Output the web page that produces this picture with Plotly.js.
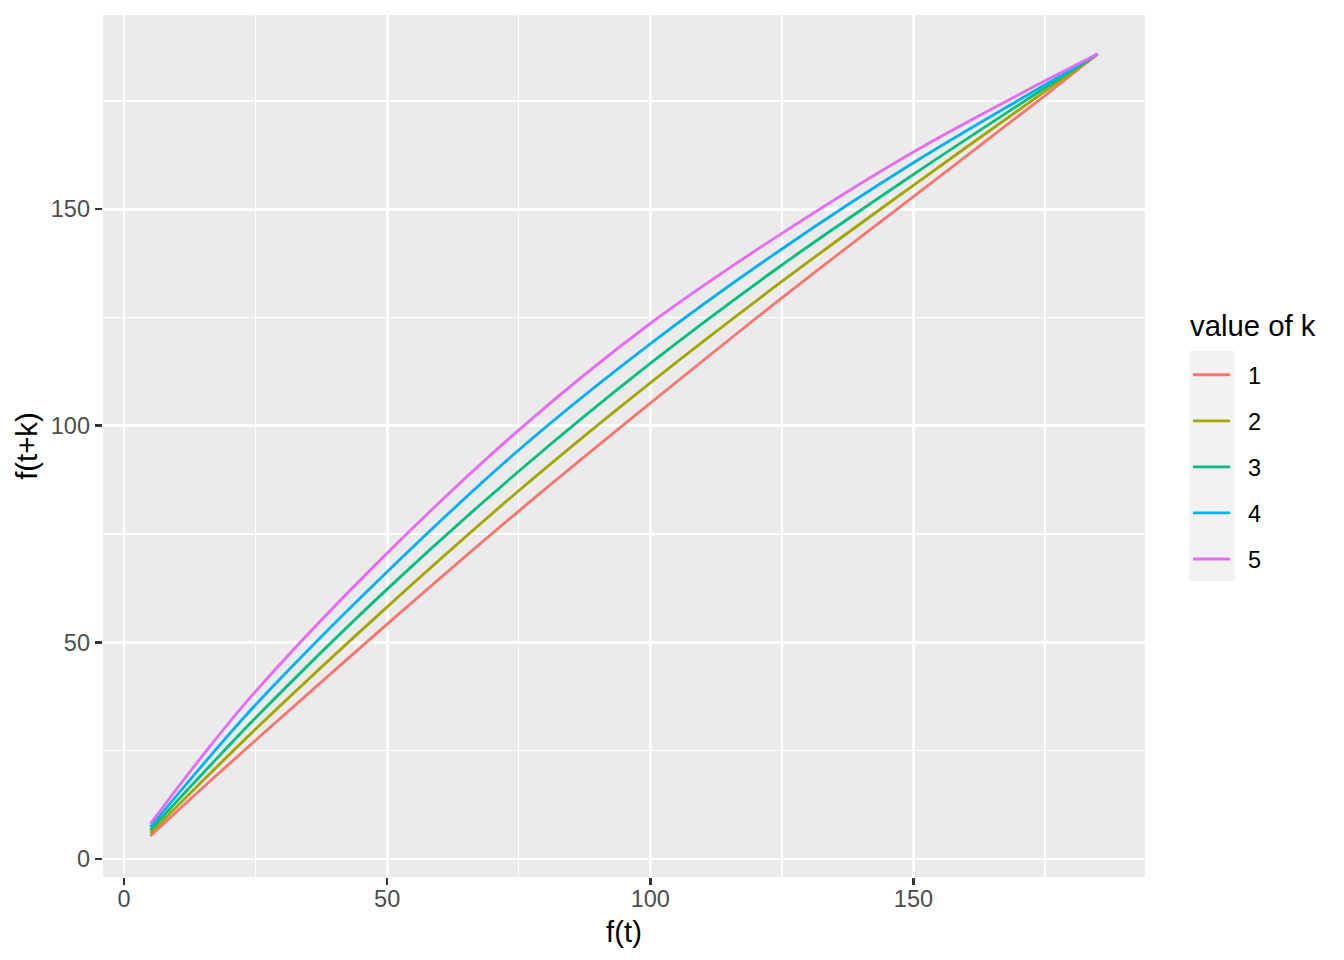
<!DOCTYPE html>
<html>
<head>
<meta charset="utf-8">
<script src="https://cdn.plot.ly/plotly-3.0.1.min.js"></script>
<style>
html,body{margin:0;padding:0;background:#fff;}
#chart{width:1344px;height:960px;}
</style>
</head>
<body>
<div id="chart"></div>
<script>
// f(t) values (x axis)
const ft = [5, 15, 25, 50, 75, 100, 125, 150, 175, 185];
// f(t+k) for each k
const k1 = [5.3, 16.5, 27.4, 54.2, 80.3, 105.2, 129.5, 152.9, 176.2, 185.8];
const k2 = [6.0, 18.1, 30.0, 58.2, 85.0, 109.9, 133.3, 155.5, 177.2, 185.8];
const k3 = [6.7, 19.8, 32.6, 62.3, 89.5, 114.4, 137.1, 158.0, 178.0, 185.8];
const k4 = [7.4, 21.8, 35.6, 66.3, 94.4, 118.9, 140.8, 160.7, 178.7, 185.8];
const k5 = [8.1, 24.0, 38.7, 70.6, 99.0, 123.6, 144.4, 163.2, 179.6, 185.8];
const kLabels = ["1", "2", "3", "4", "5"];
const colors = ["#F8766D", "#A3A500", "#00BF7D", "#00B0F6", "#E76BF3"];
const xTicks = [0, 50, 100, 150];
const yTicks = [0, 50, 100, 150];
const minorTicks = [25, 75, 125, 175];

const series = [k1, k2, k3, k4, k5];
const traces = series.map((ys, i) => ({
  x: ft, y: ys, type: "scatter", mode: "lines",
  name: "\u00A0\u00A0" + kLabels[i], legendgroup: "g" + i,
  line: {color: colors[i], width: 2.84, shape: "spline", smoothing: 1}
}));

const font = "Liberation Sans, Arial, Helvetica, sans-serif";
const axisCommon = {
  showline: false, zeroline: false,
  gridcolor: "#FFFFFF", gridwidth: 2.84,
  ticks: "outside", ticklen: 7.3, tickwidth: 2.6, tickcolor: "#333333",
  tickfont: {family: font, size: 23.5, color: "#4D4D4D"},
  automargin: false
};

const L = 103, R = 1145, T = 15, B = 877;
const px2x = p => (p - L) / (R - L);
const px2y = p => (B - p) / (B - T);

const layout = {
  width: 1344, height: 960,
  paper_bgcolor: "#FFFFFF", plot_bgcolor: "#EBEBEB",
  margin: {l: L, r: 1344 - R, t: T, b: 960 - B},
  font: {family: font},
  showlegend: true,
  xaxis: Object.assign({}, axisCommon, {
    range: [-4, 194], tickvals: xTicks, ticktext: xTicks.map(String),
    ticklabelstandoff: -7,
    minor: {tickvals: minorTicks, showgrid: true, gridcolor: "#FFFFFF", gridwidth: 1.42, ticks: ""},
    title: {text: "f(t)", font: {family: font, size: 29.3, color: "#000000"}, standoff: 10}
  }),
  yaxis: Object.assign({}, axisCommon, {
    range: [-4.15, 194.8], tickvals: yTicks, ticktext: yTicks.map(String),
    minor: {tickvals: minorTicks, showgrid: true, gridcolor: "#FFFFFF", gridwidth: 1.42, ticks: ""},
    title: {text: "f(t+k)", font: {family: font, size: 29.3, color: "#000000"}, standoff: 4}
  }),
  legend: {
    x: px2x(1188), xanchor: "left", y: px2y(353), yanchor: "top",
    bgcolor: "rgba(0,0,0,0)", borderwidth: 0,
    font: {family: font, size: 23.5, color: "#000000"},
    tracegroupgap: 12.5, itemwidth: 37
  },
  annotations: [{
    text: "value of k", xref: "paper", yref: "paper",
    x: px2x(1188), y: px2y(325), xanchor: "left", yanchor: "middle",
    showarrow: false, font: {family: font, size: 29.3, color: "#000000"}
  }],
  shapes: [{
    type: "rect", xref: "paper", yref: "paper", layer: "below",
    x0: px2x(1189), x1: px2x(1235), y0: px2y(581), y1: px2y(351),
    fillcolor: "#F2F2F2", line: {width: 0}
  }]
};

Plotly.newPlot("chart", traces, layout, {displayModeBar: false, staticPlot: true});
</script>
</body>
</html>
